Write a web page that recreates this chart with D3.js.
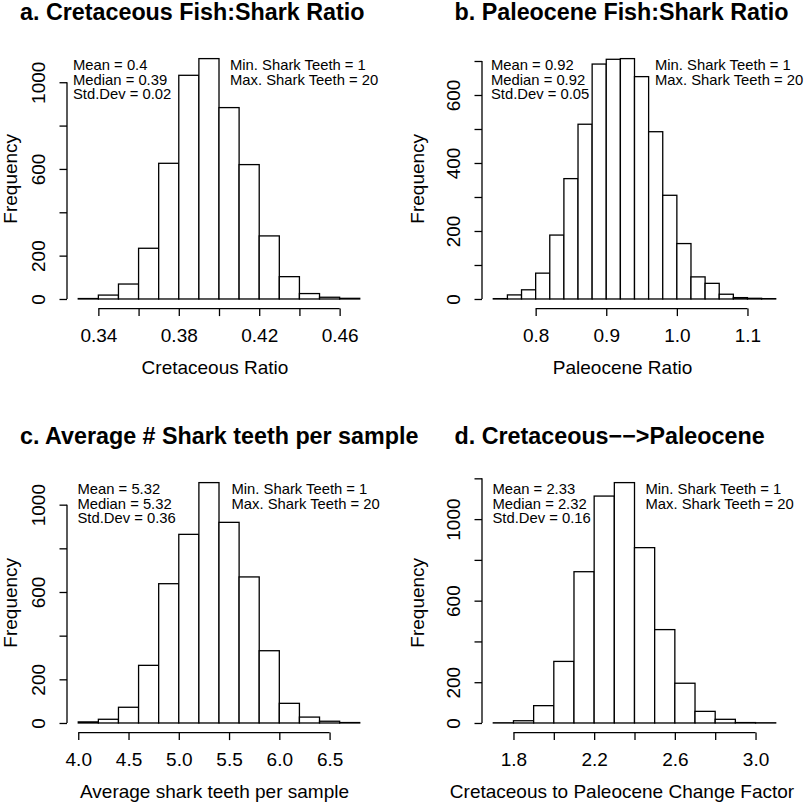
<!DOCTYPE html>
<html>
<head>
<meta charset="utf-8">
<script src="https://cdn.jsdelivr.net/npm/d3@7"></script>
<style>
  body { margin: 0; background: #fff; }
  svg { display: block; font-family: "Liberation Sans", Arial, Helvetica, sans-serif; }
  .axis text { font-size: 19px; fill: #000; }
  .axis path, .axis line { stroke: #000; stroke-width: 1.3; }
</style>
</head>
<body>
<div id="chart"></div>
<script>
  // histogram bins
  var cretBreaks   = [0.33,0.34,0.35,0.36,0.37,0.38,0.39,0.40,0.41,0.42,0.43,0.44,0.45,0.46,0.47];
  var cretCounts   = [2, 18, 69, 234, 626, 1032, 1109, 883, 620, 291, 103, 25, 8, 3];
  var cretTicks    = [0.34,0.36,0.38,0.40,0.42,0.44,0.46];
  var cretLabels   = ["0.34","","0.38","","0.42","","0.46"];

  var paleoBreaks  = [0.74,0.76,0.78,0.80,0.82,0.84,0.86,0.88,0.90,0.92,0.94,0.96,0.98,1.00,1.02,1.04,1.06,1.08,1.10,1.12,1.14];
  var paleoCounts  = [1, 12, 27, 76, 188, 354, 514, 691, 705, 707, 654, 492, 305, 163, 65, 46, 14, 4, 2, 1];
  var paleoTicks   = [0.8,0.9,1.0,1.1];
  var paleoLabels  = ["0.8","0.9","1.0","1.1"];

  var teethBreaks  = [4.0,4.2,4.4,4.6,4.8,5.0,5.2,5.4,5.6,5.8,6.0,6.2,6.4,6.6,6.8];
  var teethCounts  = [5, 17, 72, 264, 638, 864, 1101, 919, 669, 331, 90, 27, 8, 2];
  var teethTicks   = [4.0,4.5,5.0,5.5,6.0,6.5];
  var teethLabels  = ["4.0","4.5","5.0","5.5","6.0","6.5"];

  var changeBreaks = [1.7,1.8,1.9,2.0,2.1,2.2,2.3,2.4,2.5,2.6,2.7,2.8,2.9,3.0,3.1];
  var changeCounts = [1, 11, 85, 302, 742, 1113, 1179, 860, 458, 195, 57, 18, 2, 1];
  var changeTicks  = [1.8,2.0,2.2,2.4,2.6,2.8,3.0];
  var changeLabels = ["1.8","","2.2","","2.6","","3.0"];

  var freqTicks1000 = [0,200,400,600,800,1000];
  var freqTicks700  = [0,100,200,300,400,500,600,700];
  var freqTicks1200 = [0,200,400,600,800,1000,1200];
  var freqShown     = [0,200,600,1000];   // labels R kept (others dropped for overlap)
  var freqShownB    = [0,200,400,600];

  var titles  = ["a. Cretaceous Fish:Shark Ratio", "b. Paleocene Fish:Shark Ratio",
                 "c. Average # Shark teeth per sample", "d. Cretaceous\u2212\u2212>Paleocene"];
  var xTitles = ["Cretaceous Ratio", "Paleocene Ratio",
                 "Average shark teeth per sample", "Cretaceous to Paleocene Change Factor"];
  var stats   = [["Mean = 0.4","Median = 0.39","Std.Dev = 0.02"],
                 ["Mean = 0.92","Median = 0.92","Std.Dev = 0.05"],
                 ["Mean = 5.32","Median = 5.32","Std.Dev = 0.36"],
                 ["Mean = 2.33","Median = 2.32","Std.Dev = 0.16"]];
  var teethRange = ["Min. Shark Teeth = 1","Max. Shark Teeth = 20"];

  var panels = [
    {breaks:cretBreaks,   counts:cretCounts,   xt:cretTicks,   xl:cretLabels,   yt:freqTicks1000, ys:freqShown,
     left:67,  right:371, top:49,  bottom:308.6, titleX:20,  freqX:16.5, xTitleX:215,   statX:73,  rangeX:230},
    {breaks:paleoBreaks,  counts:paleoCounts,  xt:paleoTicks,  xl:paleoLabels,  yt:freqTicks700,  ys:freqShownB,
     left:482, right:787, top:49,  bottom:308.6, titleX:454.5, freqX:424, xTitleX:622.5, statX:491, rangeX:655},
    {breaks:teethBreaks,  counts:teethCounts,  xt:teethTicks,  xl:teethLabels,  yt:freqTicks1000, ys:freqShown,
     left:67,  right:371, top:473, bottom:732.6, titleX:20,  freqX:16.5, xTitleX:214.5, statX:77.5, rangeX:231.5},
    {breaks:changeBreaks, counts:changeCounts, xt:changeTicks, xl:changeLabels, yt:freqTicks1200, ys:freqShown,
     left:482, right:787, top:473, bottom:732.6, titleX:454.5, freqX:424, xTitleX:622, statX:492.5, rangeX:645.5}
  ];

  var svg = d3.select("#chart").append("svg")
    .attr("width", 805)
    .attr("height", 805);

  function drawPanel(p, i){
    var lo = p.breaks[0], hi = p.breaks[p.breaks.length - 1], pad = (hi - lo) * 0.04;
    var maxC = d3.max(p.counts);

    var x = d3.scaleLinear().domain([lo - pad, hi + pad]).range([p.left, p.right]);
    var y = d3.scaleLinear().domain([-0.04 * maxC, 1.04 * maxC]).range([p.bottom, p.top]);

    var g = svg.append("g");

    // bars
    g.selectAll("rect")
      .data(p.counts)
      .enter()
      .append("rect")
      .attr("x", function(d, j){ return x(p.breaks[j]); })
      .attr("width", function(d, j){ return x(p.breaks[j + 1]) - x(p.breaks[j]); })
      .attr("y", function(d){ return y(d); })
      .attr("height", function(d){ return y(0) - y(d); })
      .style("fill", "#fff")
      .style("stroke", "#000")
      .style("stroke-width", 1.3);

    // x axis, line only from first to last tick like R
    var xa = g.append("g")
      .attr("class", "axis")
      .attr("transform", "translate(0," + p.bottom + ")")
      .call(d3.axisBottom(x).tickValues(p.xt).tickSize(7.5).tickSizeOuter(0)
        .tickFormat(function(d, j){ return p.xl[j]; }));
    xa.select(".domain").attr("d", "M" + x(p.xt[0]) + ",0H" + x(p.xt[p.xt.length - 1]));
    xa.selectAll("text").attr("y", 0).attr("dy", 0).attr("transform", "translate(0,33)");

    // y axis, labels rotated
    var ya = g.append("g")
      .attr("class", "axis")
      .attr("transform", "translate(" + p.left + ",0)")
      .call(d3.axisLeft(y).tickValues(p.yt).tickSize(7.5).tickSizeOuter(0)
        .tickFormat(function(d){ return p.ys.indexOf(d) >= 0 ? d : ""; }));
    ya.select(".domain").attr("d", "M0," + y(p.yt[0]) + "V" + y(p.yt[p.yt.length - 1]));
    ya.selectAll("text")
      .attr("x", 0).attr("dy", 0)
      .attr("text-anchor", "middle")
      .attr("transform", "translate(-22,0) rotate(-90)");

    // titles
    g.append("text")
      .attr("x", p.titleX)
      .attr("y", p.top - 29)
      .style("font-size", "23.3px")
      .style("font-weight", "bold")
      .text(titles[i]);

    g.append("text")
      .attr("x", p.xTitleX)
      .attr("y", p.bottom + 65)
      .attr("text-anchor", "middle")
      .style("font-size", "19px")
      .text(xTitles[i]);

    g.append("text")
      .attr("transform", "translate(" + p.freqX + "," + ((p.top + p.bottom) / 2) + ") rotate(-90)")
      .attr("text-anchor", "middle")
      .style("font-size", "19px")
      .text("Frequency");

    // stats text
    g.selectAll("text.stat")
      .data(stats[i])
      .enter()
      .append("text")
      .attr("class", "stat")
      .attr("x", p.statX)
      .attr("y", function(d, j){ return p.top + 21 + j * 14.6; })
      .style("font-size", "14.8px")
      .text(function(d){ return d; });

    g.selectAll("text.range")
      .data(teethRange)
      .enter()
      .append("text")
      .attr("class", "range")
      .attr("x", p.rangeX)
      .attr("y", function(d, j){ return p.top + 21 + j * 14.6; })
      .style("font-size", "14.8px")
      .text(function(d){ return d; });
  }

  panels.forEach(drawPanel);
</script>
</body>
</html>
